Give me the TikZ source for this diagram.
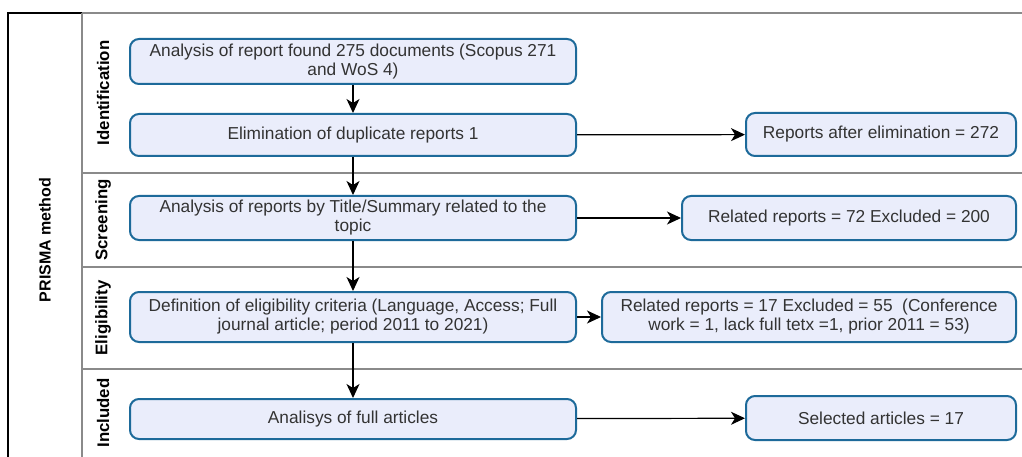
\documentclass[tikz,border=0pt]{standalone}
\usepackage{fontspec}
\setmainfont{Liberation Sans}
\usepackage{tikz}
\usetikzlibrary{arrows.meta}
\definecolor{boxfill}{HTML}{EAEDFB}
\definecolor{boxline}{HTML}{1D6A9A}
\definecolor{boxtext}{HTML}{333333}
\definecolor{laneline}{HTML}{8A8A8A}
\tikzset{
  stage/.style={draw=boxline, line width=2pt, fill=boxfill, rounded corners=9pt,
    text=boxtext, align=center, inner sep=1pt,
    font=\fontsize{17.3}{19}\selectfont},
  lane/.style={rotate=90, font=\fontsize{16.8}{19}\selectfont\bfseries},
  flow/.style={-{Stealth[length=14pt,width=13pt,inset=4pt]}, line width=1.2pt}
}

\begin{document}
\begin{tikzpicture}[x=1pt, y=-1pt]
  \useasboundingbox (0,0) rectangle (1022,457);
  % frame and lanes
  \draw[line width=1.2pt] (8,457) -- (8,13) -- (82,13);
  \draw[laneline, line width=1.2pt] (82,13) -- (1022,13);
  \draw[laneline, line width=1.2pt] (82,13) -- (82,457);
  \foreach \y in {173,267,369}
    \draw[laneline, line width=1.2pt] (82,\y) -- (1022,\y);
  \node[lane, font=\fontsize{16}{18}\selectfont\bfseries] (method) at (45,240) {PRISMA method};
  \node[lane] (ident) at (103,93) {Identification};
  \node[lane] (screen) at (103,220) {Screening};
  \node[lane] (elig) at (103,318) {Eligibility};
  \node[lane] (incl) at (103,413) {Included};
  % main column
  \node[stage, minimum width=446pt, minimum height=45pt] (found) at (353,61.5)
    {Analysis of report found 275 documents (Scopus 271\\and WoS 4)};
  \node[stage, minimum width=446pt, minimum height=42pt] (dupl) at (353,135)
    {Elimination of duplicate reports 1};
  \node[stage, minimum width=446pt, minimum height=44pt] (title) at (353,218)
    {Analysis of reports by Title/Summary related to the\\topic};
  \node[stage, minimum width=446pt, minimum height=50pt] (crit) at (353,317)
    {Definition of eligibility criteria (Language, Access; Full\\journal article; period 2011 to 2021)};
  \node[stage, minimum width=446pt, minimum height=40pt] (full) at (353,419)
    {Analisys of full articles};
  % side column
  \node[stage, minimum width=270pt, minimum height=43pt] (after) at (881,134.5)
    {Reports after elimination = 272};
  \node[stage, minimum width=334pt, minimum height=44pt] (related) at (849,218)
    {Related reports = 72 Excluded = 200};
  \node[stage, minimum width=414pt, minimum height=50pt] (excl) at (809,317)
    {Related reports = 17 Excluded = 55~ (Conference\\work = 1, lack full tetx =1, prior 2011 = 53)};
  \node[stage, minimum width=270pt, minimum height=44pt] (selected) at (881,418)
    {Selected articles = 17};
  % arrows
  \draw[flow] (found) -- (dupl);
  \draw[flow] (dupl) -- (title);
  \draw[flow] (title) -- (crit);
  \draw[flow] (crit) -- (full);
  \draw[flow] (dupl) -- (after);
  \draw[flow] (title) -- (related);
  \draw[flow] (crit) -- (excl);
  \draw[flow] (full) -- (selected);
\end{tikzpicture}
\end{document}
